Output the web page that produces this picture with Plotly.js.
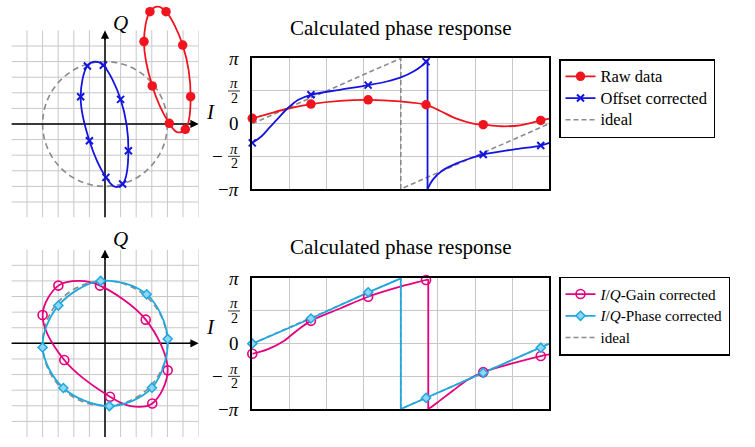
<!DOCTYPE html>
<html><head><meta charset="utf-8">
<script src="https://cdn.plot.ly/plotly-3.0.1.min.js"></script>
<style>html,body{margin:0;padding:0;background:#fff}#chart{width:755px;height:447px}</style>
</head><body><div id="chart"></div>
<script>
// ---------- I/Q constellation (top): raw data & offset corrected ----------
const rawI = [2.88, 3.91, 4.98, 5.49, 5.15, 4.12, 3.03, 2.50];
const rawQ = [7.20, 7.20, 5.06, 1.75, -0.34, 0.04, 2.44, 5.28];
const rawCurveI = [2.88, 3.38, 3.91, 4.98, 5.49, 5.15, 4.62, 4.12, 3.03, 2.50, 2.88];
const rawCurveQ = [7.20, 7.52, 7.20, 5.06, 1.75, -0.34, -0.52, 0.04, 2.44, 5.28, 7.20];
const offI = [-1.13, -0.11, 1.00, 1.50, 1.13, 0.06, -1.00, -1.56];
const offQ = [3.72, 3.76, 1.58, -1.71, -3.85, -3.42, -1.07, 1.75];
const offCurveI = [-1.13, -0.62, -0.11, 1.00, 1.50, 1.13, 0.62, 0.06, -1.00, -1.56, -1.13];
const offCurveQ = [3.72, 4.00, 3.76, 1.58, -1.71, -3.85, -4.02, -3.42, -1.07, 1.75, 3.72];
// ---------- I/Q constellation (bottom): gain & phase corrected ----------
const gainI = [-2.99, -0.32, 2.61, 4.02, 3.03, 0.32, -2.61, -4.00];
const gainQ = [3.70, 3.70, 1.52, -1.73, -3.85, -3.42, -1.07, 1.82];
const gainCurveI = [-2.99, -1.64, -0.32, 2.61, 4.02, 3.03, 1.64, 0.32, -2.61, -4.00, -2.99];
const gainCurveQ = [3.70, 4.00, 3.70, 1.52, -1.73, -3.85, -4.02, -3.42, -1.07, 1.82, 3.70];
const phI = [-0.28, 2.67, 4.02, 3.01, 0.28, -2.67, -4.00, -2.99];
const phQ = [4.00, 3.14, 0.28, -2.84, -4.02, -2.86, -0.26, 2.42];
const phCurveI = [-0.28, 2.67, 4.02, 3.01, 0.28, -2.67, -4.00, -2.99, -0.28];
const phCurveQ = [4.00, 3.14, 0.28, -2.84, -4.02, -2.86, -0.26, 2.42, 4.00];
const idealRadius = 4;
// ---------- Phase responses (x in units of pi/4, y in units of pi) ----------
const markX = [0, 1.58, 3.12, 4.68, 6.22, 7.77];
const rawPhase = [0.081, 0.30, 0.365, 0.289, -0.015, 0.05];
const rawPhaseCurveX = [0, 0.39, 0.94, 1.58, 2.36, 3.12, 3.98, 4.68, 5.05, 5.50, 5.95, 6.22, 6.71, 7.21, 7.77, 8.0];
const rawPhaseCurveY = [0.081, 0.142, 0.228, 0.30, 0.35, 0.365, 0.34, 0.289, 0.198, 0.076, 0.0, -0.015, -0.04, -0.025, 0.05, 0.076];
const offPhase = [-0.294, 0.442, 0.589, 0.949, -0.472, -0.335];
const offPhaseCurveX = [0, 0.25, 0.48, 0.70, 0.94, 1.24, 1.58, 2.36, 3.12, 3.62, 4.02, 4.34, 4.56, 4.69, 4.72, null, 4.72, 4.72, null, 4.72, 4.87, 5.14, 5.50, 5.86, 6.22, 7.03, 7.77, 8.0];
const offPhaseCurveY = [-0.294, -0.193, -0.05, 0.086, 0.228, 0.365, 0.442, 0.518, 0.589, 0.645, 0.711, 0.797, 0.883, 0.949, 0.975, null, 0.975, -1.0, null, -1.0, -0.853, -0.711, -0.609, -0.533, -0.472, -0.396, -0.335, -0.294];
const gainPhase = [-0.154, 0.349, 0.718, 0.974, -0.436, -0.19];
const gainPhaseCurveX = [0, 0.39, 0.84, 1.19, 1.58, 2.36, 3.12, 3.89, 4.68, 4.74, null, 4.74, 4.74, null, 4.74, 4.87, 5.05, 5.41, 5.77, 6.22, 7.03, 7.77, 8.0];
const gainPhaseCurveY = [-0.154, -0.092, 0.036, 0.195, 0.349, 0.538, 0.718, 0.856, 0.974, 0.985, null, 0.985, -1.0, null, -1.0, -0.949, -0.872, -0.718, -0.564, -0.436, -0.297, -0.19, -0.164];
const phPhase = [0, 0.385, 0.785, -0.83, -0.446, -0.062];
const phPhaseCurveX = [0, 1.58, 3.12, 4.0, 4.0, 4.68, 6.22, 7.77, 8.0];
const phPhaseCurveY = [0, 0.385, 0.785, 1.0, -1.0, -0.83, -0.446, -0.062, 0.0];
const idealX = [0, 4, 4, 8];
const idealY = [0, 1, -1, 0];
const piTickVals = [1, 0.5, 0, -0.5, -1];
const piTickNum = ['π', 'π', '0', 'π', 'π'];
const piTickDen = ['', '2', '', '2', ''];
const piTickSign = ['', '', '', '−', '−'];
const names = ['Raw data', 'Offset corrected', 'ideal', '<i>I</i>/<i>Q</i>-Gain corrected', '<i>I</i>/<i>Q</i>-Phase corrected'];
const titleText = 'Calculated phase response';

// ---------- styling ----------
const W = 755, H = 447;
const px = v => v / W;
const py = v => 1 - v / H;
const FONT = 'Liberation Serif, serif';
const RED = '#f0141e', BLUE = '#1414e0', MAG = '#e5007d', CYAN = '#1fa8e0', GRAY = '#8a8a8a', GRID = '#c8c8c8';
const LW = 1.8;
const big = (t, s) => '<span style="font-size:' + s + 'px">' + t + '</span>';

const redMarker = {symbol: 'circle', size: 9.5, color: RED, line: {width: 0}};
const blueMarker = {symbol: 'x-thin', size: 7, color: BLUE, line: {color: BLUE, width: 2}};
const magMarker = {symbol: 'circle-open', size: 9, color: MAG, line: {color: MAG, width: 1.6}};
const cyanMarker = {symbol: 'diamond', size: 7, color: '#8fd6f4', line: {color: CYAN, width: 1.5}};

const traces = [];
function curve(x, y, xa, ya, color, shape) {
  traces.push({x, y, xaxis: xa, yaxis: ya, mode: 'lines', line: {color, width: LW, shape: shape || 'spline', smoothing: 1}, showlegend: false, hoverinfo: 'skip', connectgaps: false});
}
function marks(x, y, xa, ya, marker) {
  traces.push({x, y, xaxis: xa, yaxis: ya, mode: 'markers', marker, showlegend: false, hoverinfo: 'skip', cliponaxis: false});
}
// top IQ
curve(offCurveI, offCurveQ, 'x', 'y', BLUE);
marks(offI, offQ, 'x', 'y', blueMarker);
curve(rawCurveI, rawCurveQ, 'x', 'y', RED);
marks(rawI, rawQ, 'x', 'y', redMarker);
// top phase
traces.push({x: idealX, y: idealY, xaxis: 'x2', yaxis: 'y2', mode: 'lines', name: big(names[2], 16.5), line: {color: GRAY, width: 1.6, dash: '5px,3px'}, legend: 'legend', legendrank: 3, hoverinfo: 'skip'});
curve(rawPhaseCurveX, rawPhaseCurveY, 'x2', 'y2', RED);
curve(offPhaseCurveX, offPhaseCurveY, 'x2', 'y2', BLUE);
marks(markX, rawPhase, 'x2', 'y2', redMarker);
marks(markX, offPhase, 'x2', 'y2', blueMarker);
traces.push({x: [null], y: [null], xaxis: 'x2', yaxis: 'y2', mode: 'lines+markers', name: big(names[0], 16.5), line: {color: RED, width: LW}, marker: redMarker, legend: 'legend', legendrank: 1});
traces.push({x: [null], y: [null], xaxis: 'x2', yaxis: 'y2', mode: 'lines+markers', name: big(names[1], 16.5), line: {color: BLUE, width: LW}, marker: blueMarker, legend: 'legend', legendrank: 2});
// bottom IQ
curve(gainCurveI, gainCurveQ, 'x3', 'y3', MAG);
marks(gainI, gainQ, 'x3', 'y3', magMarker);
curve(phCurveI, phCurveQ, 'x3', 'y3', CYAN);
marks(phI, phQ, 'x3', 'y3', cyanMarker);
// bottom phase
traces.push({x: idealX, y: idealY, xaxis: 'x4', yaxis: 'y4', mode: 'lines', name: big(names[2], 15.2), line: {color: GRAY, width: 1.6, dash: '5px,3px'}, legend: 'legend2', legendrank: 3, hoverinfo: 'skip'});
curve(gainPhaseCurveX, gainPhaseCurveY, 'x4', 'y4', MAG);
curve(phPhaseCurveX, phPhaseCurveY, 'x4', 'y4', CYAN, 'linear');
marks(markX, gainPhase, 'x4', 'y4', magMarker);
marks(markX, phPhase, 'x4', 'y4', cyanMarker);
traces.push({x: [null], y: [null], xaxis: 'x4', yaxis: 'y4', mode: 'lines+markers', name: big(names[3], 15.2), line: {color: MAG, width: LW}, marker: magMarker, legend: 'legend2', legendrank: 1});
traces.push({x: [null], y: [null], xaxis: 'x4', yaxis: 'y4', mode: 'lines+markers', name: big(names[4], 15.2), line: {color: CYAN, width: LW}, marker: cyanMarker, legend: 'legend2', legendrank: 2});

// ---------- shapes & annotations ----------
const shapes = [], anns = [];
function iqDecor(xr, yr, qLabelY, iLabelY) {
  for (let i = -5; i <= 6; i++) shapes.push({type: 'line', xref: xr, yref: yr, x0: i, x1: i, y0: -6, y1: 6, line: {color: GRID, width: 1}, layer: 'below'});
  for (let j = -5; j <= 5; j++) shapes.push({type: 'line', xref: xr, yref: yr, x0: -6, x1: 6, y0: j, y1: j, line: {color: GRID, width: 1}, layer: 'below'});
  shapes.push({type: 'circle', xref: xr, yref: yr, x0: -idealRadius, x1: idealRadius, y0: -idealRadius, y1: idealRadius, line: {color: GRAY, width: 1.6, dash: '6px,4px'}, layer: 'below'});
  shapes.push({type: 'line', xref: xr, yref: yr, x0: -6, x1: 5.7, y0: 0, y1: 0, line: {color: 'black', width: 1.5}, layer: 'below'});
  shapes.push({type: 'line', xref: xr, yref: yr, x0: 0, x1: 0, y0: -6, y1: 5.7, line: {color: 'black', width: 1.5}, layer: 'below'});
  anns.push({xref: xr, yref: yr, axref: xr, ayref: yr, x: 6, y: 0, ax: 5.3, ay: 0, text: '', showarrow: true, arrowhead: 2, arrowsize: 1.1, arrowwidth: 1.5, arrowcolor: 'black'});
  anns.push({xref: xr, yref: yr, axref: xr, ayref: yr, x: 0, y: 6, ax: 0, ay: 5.3, text: '', showarrow: true, arrowhead: 2, arrowsize: 1.1, arrowwidth: 1.5, arrowcolor: 'black'});
  anns.push({xref: 'paper', yref: 'paper', x: px(120), y: py(qLabelY), text: '<i>Q</i>', showarrow: false, xanchor: 'center', yanchor: 'middle', font: {family: FONT, size: 21, color: 'black'}});
  anns.push({xref: 'paper', yref: 'paper', x: px(211), y: py(iLabelY), text: '<i>I</i>', showarrow: false, xanchor: 'center', yanchor: 'middle', font: {family: FONT, size: 21, color: 'black'}});
}
iqDecor('x', 'y', 23, 112);
iqDecor('x3', 'y3', 239, 327);

function phaseDecor(yr, titleY) {
  anns.push({xref: 'paper', yref: 'paper', x: px(401), y: py(titleY), text: titleText, showarrow: false, xanchor: 'center', yanchor: 'middle', font: {family: FONT, size: 21, color: 'black'}});
  piTickVals.forEach((v, k) => {
    if (piTickDen[k] === '') {
      anns.push({xref: 'paper', yref: yr, x: px(241), y: v, text: piTickSign[k] + (piTickNum[k] === 'π' ? '<i>π</i>' : piTickNum[k]), showarrow: false, xanchor: 'right', yanchor: 'middle', font: {family: FONT, size: 19, color: 'black'}});
    } else {
      anns.push({xref: 'paper', yref: yr, x: px(234), y: v, yshift: 7.5, text: '<i>' + piTickNum[k] + '</i>', showarrow: false, xanchor: 'center', yanchor: 'middle', font: {family: FONT, size: 15, color: 'black'}});
      anns.push({xref: 'paper', yref: yr, x: px(234), y: v, yshift: -7.5, text: piTickDen[k], showarrow: false, xanchor: 'center', yanchor: 'middle', font: {family: FONT, size: 14, color: 'black'}});
      shapes.push({type: 'line', xref: 'paper', yref: yr, x0: px(228), x1: px(240), y0: v, y1: v, line: {color: 'black', width: 0.8}});
      if (piTickSign[k]) anns.push({xref: 'paper', yref: yr, x: px(225), y: v, text: piTickSign[k], showarrow: false, xanchor: 'right', yanchor: 'middle', font: {family: FONT, size: 19, color: 'black'}});
    }
  });
}
phaseDecor('y2', 28);
phaseDecor('y4', 247);

const iqAxis = (dom, range, anchor) => ({domain: dom, range, anchor, visible: false, fixedrange: true});
const phX = (dom, anchor) => ({domain: dom, range: [0, 8], anchor, dtick: 1, tick0: 0, showgrid: true, gridcolor: GRID, gridwidth: 1, showticklabels: false, ticks: '', zeroline: false, showline: true, mirror: true, linecolor: 'black', linewidth: 2});
const phY = (dom, anchor) => ({domain: dom, range: [-1, 1], anchor, tickmode: 'array', tickvals: piTickVals, showgrid: true, gridcolor: GRID, gridwidth: 1, showticklabels: false, ticks: '', zeroline: false, showline: true, mirror: true, linecolor: 'black', linewidth: 2});

const legendStyle = (top) => ({x: px(559), y: py(top), xanchor: 'left', yanchor: 'top', bordercolor: 'black', borderwidth: 1.5, bgcolor: 'white', font: {family: FONT, size: 14.4, color: 'black'}, tracegroupgap: 0, traceorder: 'normal'});

const layout = {
  width: W, height: H, margin: {l: 0, r: 0, t: 0, b: 0}, paper_bgcolor: 'white', plot_bgcolor: 'rgba(0,0,0,0)',
  showlegend: true,
  xaxis: iqAxis([px(11.4), px(198.6)], [-6, 6], 'y'),
  yaxis: iqAxis([py(217.6), py(2.3)], [-6, 7.8], 'x'),
  xaxis2: phX([px(252.3), px(549.3)], 'y2'),
  yaxis2: phY([py(189), py(58.3)], 'x2'),
  xaxis3: iqAxis([px(11.4), px(198.6)], [-6, 6], 'y3'),
  yaxis3: iqAxis([py(437), py(249.7)], [-6, 6], 'x3'),
  xaxis4: phX([px(252.3), px(549.3)], 'y4'),
  yaxis4: phY([py(409), py(278.3)], 'x4'),
  legend: legendStyle(59),
  legend2: legendStyle(276.7),
  shapes, annotations: anns, font: {family: FONT, color: 'black'}
};
Plotly.newPlot('chart', traces, layout, {displayModeBar: false, staticPlot: true});
</script></body></html>
